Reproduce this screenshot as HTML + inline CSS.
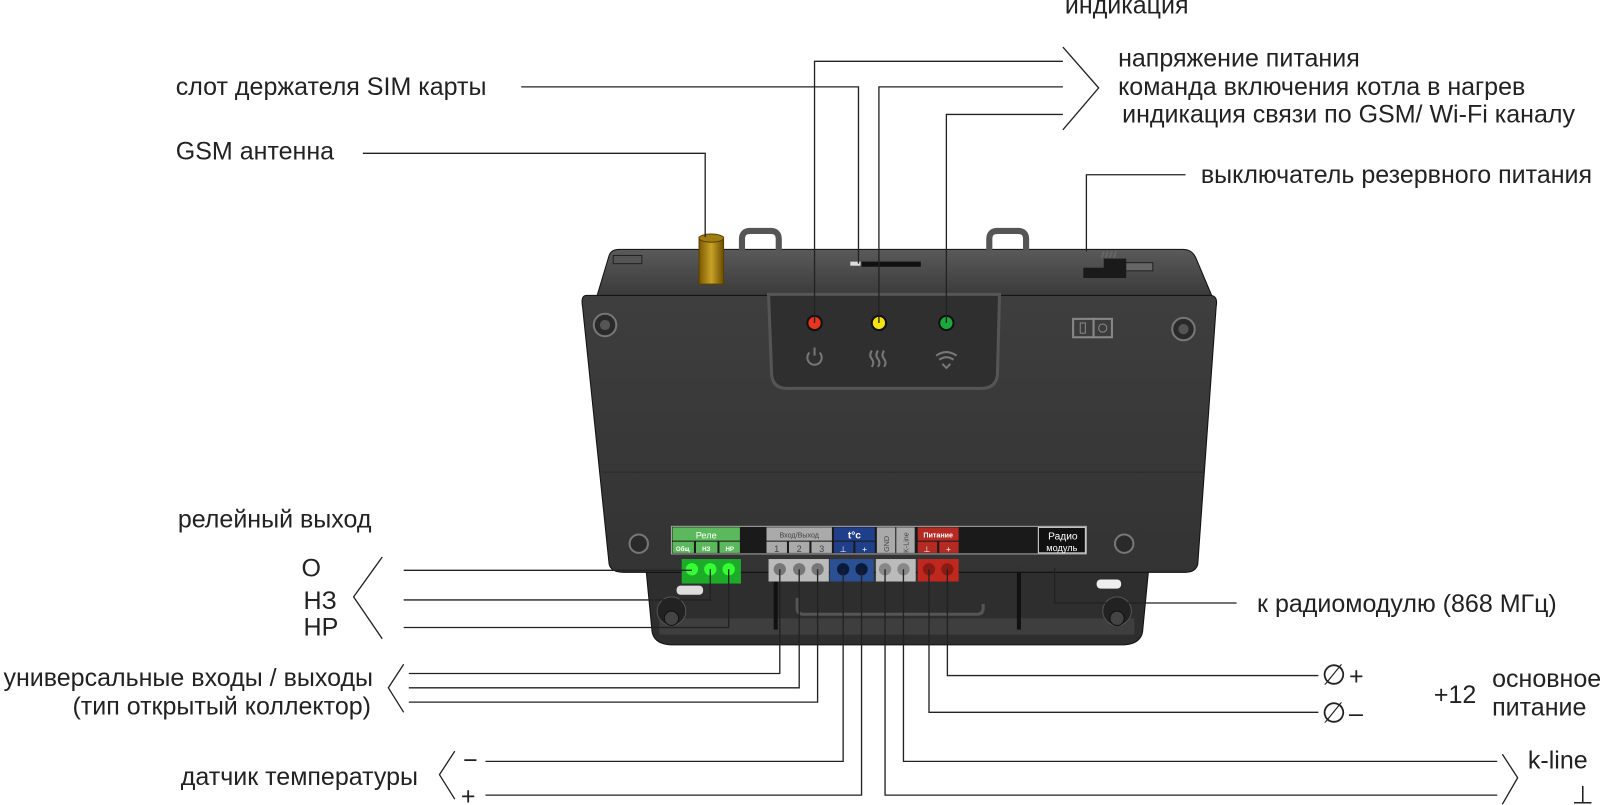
<!DOCTYPE html>
<html><head><meta charset="utf-8"><style>
html,body{margin:0;padding:0;background:#fff;width:1600px;height:805px;overflow:hidden}
svg{display:block}
text{font-family:"Liberation Sans",sans-serif;fill:#222}
</style></head><body>
<svg width="1600" height="805" viewBox="0 0 1600 805" xmlns="http://www.w3.org/2000/svg">
<defs>
<linearGradient id="face" x1="0" y1="0" x2="0" y2="1">
<stop offset="0" stop-color="#3e3e3e"/><stop offset="1" stop-color="#333"/></linearGradient>
<linearGradient id="top" x1="0" y1="0" x2="0" y2="1">
<stop offset="0" stop-color="#5a5a5a"/><stop offset="1" stop-color="#3a3a3a"/></linearGradient>
<linearGradient id="ant" x1="0" y1="0" x2="1" y2="0">
<stop offset="0" stop-color="#7a5a00"/><stop offset=".5" stop-color="#c9a227"/><stop offset="1" stop-color="#6a4c00"/></linearGradient>
</defs>
<g transform="scale(1.022)">
<!-- lower housing -->
<path d="M632 556 L1124 556 L1118 618 Q1116 630 1100 631 L656 631 Q640 630 638 618 Z" fill="#2e2e2e" stroke="#111"/>
<rect x="645" y="605" width="465" height="16" fill="#4a4a4a" opacity=".6"/>
<circle cx="657" cy="598" r="14" fill="#222" stroke="#555"/><circle cx="657" cy="605" r="7" fill="#444" stroke="#111"/>
<circle cx="1093" cy="598" r="14" fill="#222" stroke="#555"/><circle cx="1093" cy="605" r="7" fill="#444" stroke="#111"/>
<rect x="662" y="573" width="26" height="9" rx="4" fill="#ddd"/>
<rect x="1073" y="567" width="24" height="9" rx="4" fill="#eee"/>
<rect x="757" y="556" width="4" height="60" fill="#111"/>
<rect x="995" y="556" width="4" height="60" fill="#111"/>
<path d="M780 585 v10 q0 6 6 6 h170 q6 0 6-6 v-4" fill="none" stroke="#555" stroke-width="3"/>

<!-- top strip -->
<path d="M584 290 L596 250 Q598 244 606 244 L1158 244 Q1166 244 1170 252 L1186 290 Z" fill="url(#top)" stroke="#111"/>
<path d="M726 246 v-12 q0-8 8-8 h20 q8 0 8 8 v12" fill="none" stroke="#555" stroke-width="6"/>
<path d="M968 246 v-12 q0-8 8-8 h20 q8 0 8 8 v12" fill="none" stroke="#555" stroke-width="6"/>
<rect x="600" y="250" width="28" height="8" fill="#555" stroke="#222"/>
<rect x="1100" y="257" width="28" height="8" fill="#666" stroke="#222"/>
<rect x="832" y="256" width="10" height="4" fill="#ddd"/>
<rect x="843" y="256" width="58" height="5" fill="#111"/>
<path d="M1060 262 h20 v-9 h22 v19 h-42 z" fill="#1a1a1a"/>
<path d="M1078 252 l2-6 M1082 252 l2-6 M1086 252 l2-6 M1090 252 l2-6" stroke="#666" stroke-width="2"/>
<rect x="684" y="232" width="24" height="46" fill="url(#ant)" stroke="#5a4000"/>
<ellipse cx="696" cy="233" rx="12" ry="4" fill="#a07d10" stroke="#5a4000"/>

<!-- face -->
<path d="M574 289 L1184 289 Q1192 289 1190 300 L1172 552 Q1170 560 1160 560 L610 560 Q598 560 596 552 L570 300 Q568 289 574 289 Z" fill="url(#face)" stroke="#111"/>
<line x1="590" y1="462" x2="1178" y2="462" stroke="#2a2a2a"/>
<circle cx="592" cy="318" r="11" fill="#2a2a2a" stroke="#777" stroke-width="2"/><circle cx="592" cy="318" r="5" fill="#555"/>
<circle cx="1158" cy="322" r="11" fill="#2a2a2a" stroke="#777" stroke-width="2"/><circle cx="1158" cy="322" r="5" fill="#555"/>
<circle cx="625" cy="532" r="9" fill="#2a2a2a" stroke="#777" stroke-width="2"/>
<circle cx="1100" cy="532" r="9" fill="#2a2a2a" stroke="#777" stroke-width="2"/>
<rect x="1050" y="312" width="20" height="18" fill="none" stroke="#888" stroke-width="2"/>
<rect x="1070" y="312" width="18" height="18" fill="none" stroke="#888" stroke-width="2"/>
<rect x="1057" y="316" width="5" height="10" fill="none" stroke="#888"/><circle cx="1079" cy="321" r="4" fill="none" stroke="#888"/>
<path d="M752 288 L978 288 L976 366 Q975 380 960 380 L770 380 Q756 380 755 366 Z" fill="#2f2f2f" stroke="#555" stroke-width="3"/>
<circle cx="797" cy="316" r="7" fill="#e8351f" stroke="#111" stroke-width="2"/>
<circle cx="860" cy="316" r="7" fill="#f5e310" stroke="#111" stroke-width="2"/>
<circle cx="926" cy="316" r="7" fill="#1aa83a" stroke="#111" stroke-width="2"/>
<path d="M792 345 a7 7 0 1 0 10 0 M797 340 v8" fill="none" stroke="#777" stroke-width="2"/>
<path d="M853 343 q-3 5 0 8 q3 4 0 8 M859 343 q-3 5 0 8 q3 4 0 8 M865 343 q-3 5 0 8 q3 4 0 8" fill="none" stroke="#777" stroke-width="2"/>
<path d="M916 348 q10-7 20 0 M919 352 q7-5 14 0 M922 356 l4 4 l4-4" fill="none" stroke="#777" stroke-width="2"/>

<!-- label strip -->
<rect x="657" y="515" width="406" height="27" fill="#1a1a1a" stroke="#aaa"/>
<rect x="658" y="516" width="66" height="13" fill="#5cb85c"/><text x="691" y="527" font-size="9" text-anchor="middle" style="fill:#fff">Реле</text>
<rect x="658" y="530" width="21" height="11" fill="#5cb85c"/><rect x="681" y="530" width="21" height="11" fill="#5cb85c"/><rect x="704" y="530" width="20" height="11" fill="#5cb85c"/>
<text x="668" y="539" font-size="6" text-anchor="middle" style="fill:#fff;font-weight:bold">Общ</text>
<text x="691" y="539" font-size="6" text-anchor="middle" style="fill:#fff;font-weight:bold">НЗ</text>
<text x="714" y="539" font-size="6" text-anchor="middle" style="fill:#fff;font-weight:bold">НР</text>
<rect x="750" y="516" width="64" height="13" fill="#aaa"/><text x="782" y="526" font-size="7" text-anchor="middle" style="fill:#444">Вход/Выход</text>
<rect x="750" y="530" width="20" height="11" fill="#aaa"/><rect x="772" y="530" width="20" height="11" fill="#aaa"/><rect x="794" y="530" width="20" height="11" fill="#aaa"/>
<text x="760" y="540" font-size="9" text-anchor="middle" style="fill:#444">1</text><text x="782" y="540" font-size="9" text-anchor="middle" style="fill:#444">2</text><text x="804" y="540" font-size="9" text-anchor="middle" style="fill:#444">3</text>
<rect x="816" y="516" width="40" height="13" fill="#1f3f8a"/><text x="836" y="527" font-size="10" text-anchor="middle" style="fill:#fff;font-weight:bold">t°c</text>
<rect x="816" y="530" width="19" height="11" fill="#1f3f8a"/><rect x="837" y="530" width="19" height="11" fill="#1f3f8a"/>
<text x="825" y="540" font-size="8" text-anchor="middle" style="fill:#fff">⊥</text><text x="846" y="540" font-size="8" text-anchor="middle" style="fill:#fff">+</text>
<rect x="858" y="516" width="18" height="25" fill="#aaa"/><rect x="877" y="516" width="18" height="25" fill="#aaa"/>
<text transform="translate(870,540) rotate(-90)" font-size="7" style="fill:#444">GND</text>
<text transform="translate(889,541) rotate(-90)" font-size="7" style="fill:#444">K-Line</text>
<rect x="898" y="516" width="40" height="13" fill="#b52a22"/><text x="918" y="526" font-size="7" text-anchor="middle" style="fill:#fff;font-weight:bold">Питание</text>
<rect x="898" y="530" width="19" height="11" fill="#b52a22"/><rect x="919" y="530" width="19" height="11" fill="#b52a22"/>
<text x="907" y="540" font-size="8" text-anchor="middle" style="fill:#fff">⊥</text><text x="928" y="540" font-size="8" text-anchor="middle" style="fill:#fff">+</text>
<rect x="1016" y="516" width="46" height="25" fill="#111" stroke="#ddd"/>
<text x="1040" y="528" font-size="10" text-anchor="middle" style="fill:#fff">Радио</text>
<text x="1039" y="539" font-size="9" text-anchor="middle" style="fill:#fff">модуль</text>

<!-- terminals -->
<rect x="667" y="547" width="58" height="24" fill="#1dab2a"/>
<circle cx="677" cy="557" r="6" fill="#3f3"/><circle cx="695" cy="557" r="6" fill="#3f3"/><circle cx="713" cy="557" r="6" fill="#3f3"/>
<rect x="752" y="547" width="59" height="22" fill="#bbb"/>
<circle cx="763" cy="557" r="6" fill="#777"/><circle cx="782" cy="557" r="6" fill="#777"/><circle cx="800" cy="557" r="6" fill="#777"/>
<rect x="812" y="547" width="43" height="22" fill="#2b4f93"/>
<circle cx="825" cy="557" r="6" fill="#0a1a3a"/><circle cx="843" cy="557" r="6" fill="#0a1a3a"/>
<rect x="857" y="547" width="39" height="22" fill="#bbb"/>
<circle cx="866" cy="557" r="6" fill="#888"/><circle cx="884" cy="557" r="6" fill="#888"/>
<rect x="898" y="547" width="40" height="22" fill="#c0281f"/>
<circle cx="909" cy="557" r="6" fill="#8a1a14"/><circle cx="927" cy="557" r="6" fill="#8a1a14"/>

<!-- connectors -->
<g fill="none" stroke="#222" stroke-width="1.3">
<path d="M797 316 V60 H1040"/>
<path d="M510 85 H840 V258"/>
<path d="M860 316 V85 H1040"/>
<path d="M926 316 V112 H1040"/>
<path d="M1040 46 L1075 86 L1040 127"/>
<path d="M355 150 H690 V232"/>
<path d="M1160 171 H1063 V246"/>
<path d="M374 545 L346 584 L374 625"/>
<path d="M395 558 H677"/>
<path d="M395 587 H695 V557"/>
<path d="M395 614 H713 V557"/>
<path d="M1032 556 V590 H1210"/>
<path d="M395 650 L380 673 L395 697"/>
<path d="M400 659 H763 V557"/>
<path d="M400 673 H782 V557"/>
<path d="M400 687 H800 V557"/>
<path d="M445 735 L430 758 L445 782"/>
<path d="M475 745 H825 V557"/>
<path d="M475 778 H843 V557"/>
<path d="M927 557 V661 H1290"/>
<path d="M909 557 V697 H1290"/>
<path d="M884 557 V745 H1465"/>
<path d="M866 557 V778 H1465"/>
<path d="M1470 738 L1485 761 L1470 787"/>
</g>
<text x="1293" y="670" font-size="28">∅</text>
<text x="1293" y="707" font-size="28">∅</text>

<!-- labels -->
<g font-size="24.5">
<text x="1042" y="13">индикация</text>
<text x="1094" y="65">напряжение питания</text>
<text x="1094" y="93">команда включения котла в нагрев</text>
<text x="1098" y="120">индикация связи по GSM/ Wi-Fi каналу</text>
<text x="172" y="93">слот держателя SIM карты</text>
<text x="172" y="156">GSM антенна</text>
<text x="1175" y="179">выключатель резервного питания</text>
<text x="174" y="516">релейный выход</text>
<text x="295" y="564">О</text>
<text x="297" y="596">НЗ</text>
<text x="297" y="622">НР</text>
<text x="365" y="671" text-anchor="end">универсальные входы / выходы</text>
<text x="363" y="699" text-anchor="end">(тип открытый коллектор)</text>
<text x="409" y="768" text-anchor="end">датчик температуры</text>
<text x="453" y="752">−</text>
<text x="451" y="787">+</text>
<text x="1230" y="599">к радиомодулю (868 МГц)</text>
<text x="1320" y="670">+</text>
<text x="1320" y="706">–</text>
<text x="1403" y="688">+12</text>
<text x="1460" y="672">основное</text>
<text x="1460" y="700">питание</text>
<text x="1495" y="752">k-line</text>
<text x="1538" y="786">⊥</text>
</g>
</g>
</svg>
</body></html>
